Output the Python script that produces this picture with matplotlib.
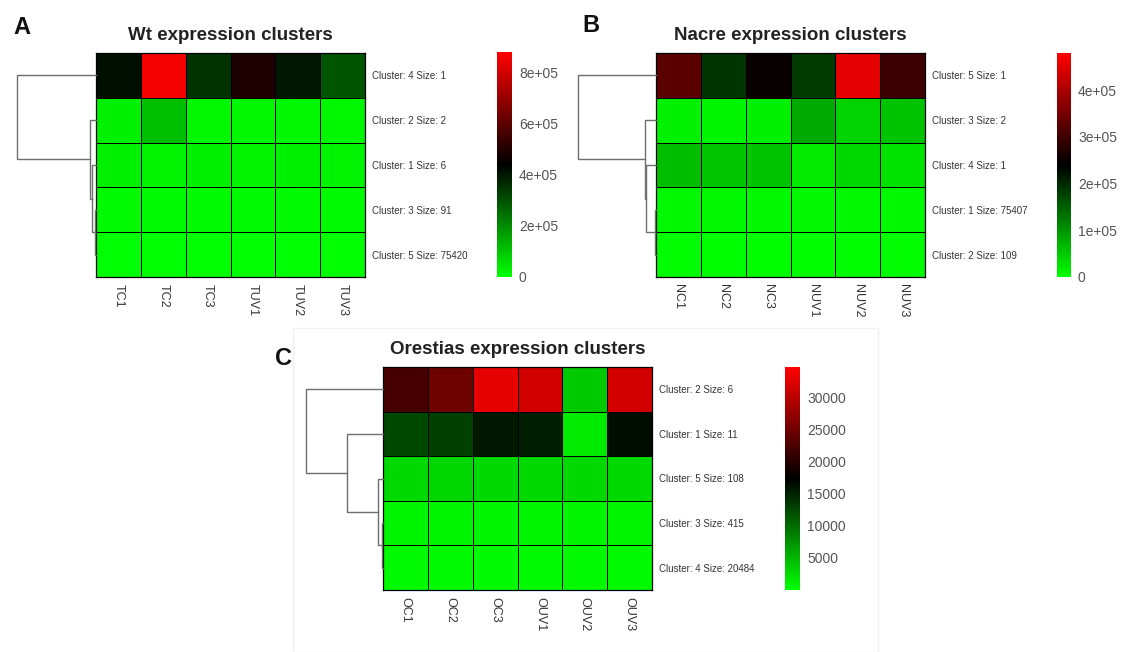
import numpy as np
import matplotlib
matplotlib.use("Agg")
from matplotlib import pyplot as plt
from matplotlib.colors import LinearSegmentedColormap, Normalize

plt.rcParams['font.family'] = ['Liberation Sans', 'DejaVu Sans']

W, H = 1122, 652

# --- data ---
wt_samples = ['TC1', 'TC2', 'TC3', 'TUV1', 'TUV2', 'TUV3']
wt_clusters = ['Cluster: 4 Size: 1', 'Cluster: 2 Size: 2', 'Cluster: 1 Size: 6',
               'Cluster: 3 Size: 91', 'Cluster: 5 Size: 75420']
wt_values = [
    [4.14e5, 8.6e5, 3.54e5, 4.92e5, 3.97e5, 2.93e5],
    [2.6e4, 1.12e5, 1.7e4, 1.7e4, 1.7e4, 1.7e4],
    [2.6e4, 2.4e4, 2.6e4, 2.3e4, 2.6e4, 2.4e4],
    [8e3, 7e3, 8e3, 7e3, 8e3, 7e3],
    [2e3, 2e3, 2e3, 2e3, 2e3, 2e3],
]
wt_range = (0, 8.8e5)
wt_ticks = [0, 2e5, 4e5, 6e5, 8e5]
wt_ticklabels = ['0', '2e+05', '4e+05', '6e+05', '8e+05']
# merges: (child a, child b, height), leaves 0..4 top to bottom
wt_tree = [(3, 4, 0.015), (2, 5, 0.045), (1, 6, 0.07), (0, 7, 1.0)]

nacre_samples = ['NC1', 'NC2', 'NC3', 'NUV1', 'NUV2', 'NUV3']
nacre_clusters = ['Cluster: 5 Size: 1', 'Cluster: 3 Size: 2', 'Cluster: 4 Size: 1',
                  'Cluster: 1 Size: 75407', 'Cluster: 2 Size: 109']
nacre_values = [
    [3.25e5, 1.9e5, 2.48e5, 1.84e5, 4.55e5, 2.97e5],
    [1.4e4, 1.0e4, 1.4e4, 8.0e4, 4.2e4, 5.7e4],
    [6.3e4, 5.5e4, 5.8e4, 1.9e4, 3.7e4, 2.8e4],
    [7e3, 7e3, 7e3, 7e3, 7e3, 7e3],
    [3e3, 3e3, 3e3, 3e3, 3e3, 3e3],
]
nacre_range = (0, 4.8e5)
nacre_ticks = [0, 1e5, 2e5, 3e5, 4e5]
nacre_ticklabels = ['0', '1e+05', '2e+05', '3e+05', '4e+05']
nacre_tree = [(3, 4, 0.01), (2, 5, 0.125), (1, 6, 0.14), (0, 7, 1.0)]

orestias_samples = ['OC1', 'OC2', 'OC3', 'OUV1', 'OUV2', 'OUV3']
orestias_clusters = ['Cluster: 2 Size: 6', 'Cluster: 1 Size: 11', 'Cluster: 5 Size: 108',
                     'Cluster: 3 Size: 415', 'Cluster: 4 Size: 20484']
orestias_values = [
    [22100, 24800, 33000, 31600, 3700, 31600],
    [12600, 12900, 15650, 15300, 1360, 16500],
    [2700, 2800, 2600, 2700, 2700, 2600],
    [700, 700, 700, 700, 700, 700],
    [350, 350, 350, 350, 350, 350],
]
orestias_range = (0, 34700)
orestias_ticks = [5000, 10000, 15000, 20000, 25000, 30000]
orestias_ticklabels = ['5000', '10000', '15000', '20000', '25000', '30000']
orestias_tree = [(3, 4, 0.013), (2, 5, 0.065), (1, 6, 0.47), (0, 7, 1.0)]

cmap = LinearSegmentedColormap.from_list('gbr', ['#00ff00', '#000000', '#ff0000'])


def px_axes(fig, x0, y0, x1, y1):
    # axes from pixel box (top-left origin)
    return fig.add_axes([x0 / W, 1 - y1 / H, (x1 - x0) / W, (y1 - y0) / H])


def draw_tree(ax, tree, n):
    pos = {i: i + 0.5 for i in range(n)}
    hgt = {i: 0.0 for i in range(n)}
    node = n
    for a, b, h in tree:
        ax.plot([hgt[a], h, h, hgt[b]], [pos[a], pos[a], pos[b], pos[b]],
                color='#6e6e6e', lw=1.0, clip_on=False, solid_joinstyle='miter')
        pos[node] = (pos[a] + pos[b]) / 2
        hgt[node] = h
        node += 1
    ax.set_xlim(1.0, 0)
    ax.set_ylim(n, 0)
    ax.axis('off')


def panel(fig, box, title, samples, clusters, values, vrange, ticks, ticklabels,
          tree, dendro_x, cbar_box):
    x0, y0, x1, y1 = box
    vals = np.array(values)
    ax = px_axes(fig, x0, y0, x1, y1)
    norm = Normalize(*vrange)
    ax.pcolormesh(vals, cmap=cmap, norm=norm, edgecolors='black', linewidth=0.7)
    ax.set_xlim(0, vals.shape[1])
    ax.set_ylim(vals.shape[0], 0)
    for s in ax.spines.values():
        s.set_linewidth(0.9)
    ax.set_xticks(np.arange(vals.shape[1]) + 0.5)
    ax.set_xticklabels(samples, rotation=270, fontsize=9, color='#333333')
    ax.set_yticks(np.arange(vals.shape[0]) + 0.5)
    ax.set_yticklabels(clusters, fontsize=7, color='#333333')
    ax.yaxis.tick_right()
    ax.tick_params(length=0, pad=5)
    ax.set_title(title, fontsize=13.5, fontweight='bold', color='#222222', pad=9)

    dax = px_axes(fig, dendro_x, y0, x0, y1)
    draw_tree(dax, tree, vals.shape[0])

    cax = px_axes(fig, *cbar_box)
    cb = fig.colorbar(plt.cm.ScalarMappable(norm=norm, cmap=cmap), cax=cax)
    cb.outline.set_visible(False)
    cb.set_ticks(ticks)
    cb.set_ticklabels(ticklabels)
    cax.tick_params(length=0, labelsize=10, labelcolor='#555555', pad=5)


fig = plt.figure(figsize=(W / 100, H / 100), dpi=100)

# faint frame around the lower panel
fig.add_artist(plt.Rectangle((293 / W, 0), (878 - 293) / W, 1 - 328 / H,
                             transform=fig.transFigure, fill=False,
                             edgecolor='#f0f0f0', lw=1))

panel(fig, (96, 53, 365, 277), 'Wt expression clusters', wt_samples, wt_clusters,
      wt_values, wt_range, wt_ticks, wt_ticklabels, wt_tree, 17, (497, 52, 512, 277))
panel(fig, (656, 53, 925, 277), 'Nacre expression clusters', nacre_samples, nacre_clusters,
      nacre_values, nacre_range, nacre_ticks, nacre_ticklabels, nacre_tree, 578,
      (1057, 53, 1071, 277))
panel(fig, (383, 367, 652, 590), 'Orestias expression clusters', orestias_samples,
      orestias_clusters, orestias_values, orestias_range, orestias_ticks,
      orestias_ticklabels, orestias_tree, 306, (785, 367, 800, 590))

for letter, x, y in [('A', 22, 28), ('B', 591, 26), ('C', 283, 358)]:
    fig.text(x / W, 1 - y / H, letter, fontsize=17, fontweight='bold',
             ha='center', va='center', color='#111111')

fig.savefig('out.png', dpi=100)
